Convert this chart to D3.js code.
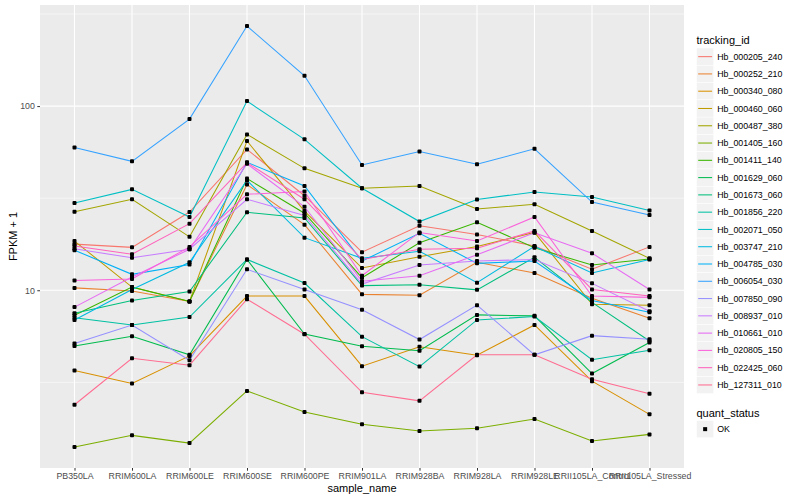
<!DOCTYPE html>
<html>
<head>
<meta charset="utf-8">
<script src="https://cdn.jsdelivr.net/npm/d3@7"></script>
<style>
  body { margin: 0; background: #fff; }
  text { font-family: "Liberation Sans", Arial, sans-serif; }
</style>
</head>
<body>
<div id="chart"></div>
<script>
// samples on the x axis
const sampleNames = ["PB350LA", "RRIM600LA", "RRIM600LE", "RRIM600SE", "RRIM600PE", "RRIM901LA",
  "RRIM928BA", "RRIM928LA", "RRIM928LE", "RRII105LA_Control", "RRII105LA_Stressed"];

const trackingIds = ["Hb_000205_240", "Hb_000252_210", "Hb_000340_080", "Hb_000460_060", "Hb_000487_380",
  "Hb_001405_160", "Hb_001411_140", "Hb_001629_060", "Hb_001673_060", "Hb_001856_220",
  "Hb_002071_050", "Hb_003747_210", "Hb_004785_030", "Hb_006054_030", "Hb_007850_090",
  "Hb_008937_010", "Hb_010661_010", "Hb_020805_150", "Hb_022425_060", "Hb_127311_010"];

// FPKM + 1, one row per tracking_id, one value per sample
const fpkmPlusOne = [
  [17.8, 17.1, 26.6, 58.2, 32.6, 16.1, 22.4, 20.1, 17.4, 13.0, 17.2],
  [10.3, 9.9, 8.7, 37.5, 22.7, 9.5, 9.4, 14.2, 12.4, 9.05, 7.05],
  [3.67, 3.12, 4.40, 9.3, 9.3, 3.87, 4.93, 4.44, 6.48, 3.21, 2.12],
  [18.5, 10.4, 8.7, 64.6, 26.9, 13.2, 15.2, 17.3, 20.6, 8.4, 8.3],
  [26.7, 31.2, 19.5, 70.2, 45.9, 35.8, 36.8, 27.6, 29.3, 21.0, 14.9],
  [1.41, 1.63, 1.48, 2.84, 2.18, 1.875, 1.72, 1.78, 2.00, 1.52, 1.65],
  [7.32, 10.4, 8.7, 40.4, 26.2, 11.7, 18.1, 23.4, 17.0, 13.7, 14.8],
  [4.98, 5.62, 4.46, 14.7, 5.79, 4.96, 4.70, 7.35, 7.26, 3.53, 5.2],
  [7.5, 8.8, 9.85, 26.5, 24.7, 10.6, 10.7, 10.05, 15.1, 8.6, 5.3],
  [7.1, 6.48, 7.15, 14.7, 10.95, 5.6, 3.85, 6.9, 7.2, 4.2, 4.73],
  [29.8, 35.3, 25.0, 106.4, 66.0, 35.8, 23.6, 31.1, 34.2, 32.1, 27.1],
  [6.9, 10.1, 14.2, 39.5, 19.3, 14.9, 16.3, 11.0, 17.3, 12.4, 14.7],
  [16.5, 12.2, 13.8, 49.5, 36.8, 14.4, 20.4, 14.0, 14.4, 8.8, 7.6],
  [59.5, 50.1, 85.0, 272, 146, 47.9, 56.6, 48.3, 58.6, 30.1, 25.6],
  [5.14, 6.48, 4.17, 13.0, 10.1, 7.83, 5.4, 8.3, 4.46, 5.67, 5.42],
  [16.8, 15.0, 16.7, 31.2, 25.5, 10.8, 13.7, 14.4, 14.7, 10.9, 7.7],
  [8.1, 11.8, 16.7, 48.6, 28.4, 11.2, 12.0, 15.6, 20.5, 15.9, 10.1],
  [11.3, 11.5, 17.2, 33.2, 34.4, 12.0, 20.6, 18.5, 25.0, 9.3, 9.15],
  [17.4, 15.7, 23.0, 49.3, 31.2, 14.7, 16.7, 16.9, 21.0, 10.1, 9.3],
  [2.39, 4.27, 3.92, 8.94, 5.77, 2.79, 2.51, 4.46, 4.46, 3.29, 2.74]
];

const quantStatus = ["OK"];
const yTicks = [10, 100];
const yMinorTicks = [Math.pow(10, 0.5), Math.pow(10, 1.5), Math.pow(10, 2.5)];

// ggplot default hue palette for 20 levels
const palette = ["#F8766D", "#EA8331", "#D89000", "#C09B00", "#A3A500", "#7CAE00", "#39B600",
  "#00BB4E", "#00BF7D", "#00C1A3", "#00BFC4", "#00BAE0", "#00B0F6", "#35A2FF", "#9590FF",
  "#C77CFF", "#E76BF3", "#FA62DB", "#FF62BC", "#FF6C91"];

const width = 800, height = 500;
const panel = { left: 40, right: 684, top: 5, bottom: 468 };

const svg = d3.select("#chart").append("svg")
  .attr("width", width)
  .attr("height", height);

svg.append("rect").attr("width", width).attr("height", height).attr("fill", "#fff");

// --- Scales ---
const x = d3.scalePoint()
  .domain(sampleNames)
  .range([panel.left, panel.right])
  .padding(0.6);

const allValues = fpkmPlusOne.flat();
const [lo, hi] = d3.extent(allValues).map(Math.log10);
const pad = (hi - lo) * 0.05; // ggplot-style expansion in log space
const y = d3.scaleLog()
  .domain([Math.pow(10, lo - pad), Math.pow(10, hi + pad)])
  .range([panel.bottom, panel.top]);

// --- Panel + grid ---
svg.append("rect")
  .attr("x", panel.left).attr("y", panel.top)
  .attr("width", panel.right - panel.left)
  .attr("height", panel.bottom - panel.top)
  .attr("fill", "#EBEBEB");

const grid = svg.append("g");
grid.selectAll(".minor")
  .data(yMinorTicks)
  .join("line")
  .attr("x1", panel.left).attr("x2", panel.right)
  .attr("y1", d => y(d)).attr("y2", d => y(d))
  .attr("stroke", "#fff").attr("stroke-width", 0.55);

grid.selectAll(".major-y")
  .data(yTicks)
  .join("line")
  .attr("x1", panel.left).attr("x2", panel.right)
  .attr("y1", d => y(d)).attr("y2", d => y(d))
  .attr("stroke", "#fff").attr("stroke-width", 1.1);

grid.selectAll(".major-x")
  .data(sampleNames)
  .join("line")
  .attr("x1", d => x(d)).attr("x2", d => x(d))
  .attr("y1", panel.top).attr("y2", panel.bottom)
  .attr("stroke", "#fff").attr("stroke-width", 1.1);

// --- Lines ---
const line = d3.line()
  .x((d, i) => x(sampleNames[i]))
  .y(d => y(d));

svg.append("g")
  .selectAll("path")
  .data(fpkmPlusOne)
  .join("path")
  .attr("d", line)
  .attr("fill", "none")
  .attr("stroke", (d, i) => palette[i])
  .attr("stroke-width", 1.05);

// --- Points (quant_status = OK) ---
const pts = fpkmPlusOne.flatMap(row => row.map((v, i) => ({ s: sampleNames[i], v })));
svg.append("g")
  .selectAll("rect")
  .data(pts)
  .join("rect")
  .attr("x", d => x(d.s) - 2)
  .attr("y", d => y(d.v) - 2)
  .attr("width", 4).attr("height", 4)
  .attr("rx", 1)
  .attr("fill", "#000");

// --- Axes ---
const xAxis = d3.axisBottom(x).tickSize(2.7).tickPadding(2.5);
const gx = svg.append("g")
  .attr("transform", `translate(0,${panel.bottom})`)
  .call(xAxis);
gx.select(".domain").remove();
gx.selectAll(".tick line").attr("stroke", "#333333");
gx.selectAll(".tick text")
  .attr("fill", "#4D4D4D")
  .style("font-size", "8.8px")
  .style("font-family", "Liberation Sans, Arial, sans-serif");

const yAxis = d3.axisLeft(y).tickValues(yTicks).tickFormat(d3.format("d")).tickSize(2.7).tickPadding(2.5);
const gy = svg.append("g")
  .attr("transform", `translate(${panel.left},0)`)
  .call(yAxis);
gy.select(".domain").remove();
gy.selectAll(".tick line").attr("stroke", "#333333");
gy.selectAll(".tick text")
  .attr("fill", "#4D4D4D")
  .style("font-size", "8.8px")
  .style("font-family", "Liberation Sans, Arial, sans-serif");

// axis titles
svg.append("text")
  .attr("x", (panel.left + panel.right) / 2)
  .attr("y", 492)
  .attr("text-anchor", "middle")
  .style("font-size", "11px")
  .text("sample_name");

svg.append("text")
  .attr("transform", `translate(17,${(panel.top + panel.bottom) / 2}) rotate(-90)`)
  .attr("text-anchor", "middle")
  .style("font-size", "11px")
  .text("FPKM + 1");

// --- Legend: tracking_id ---
const keySize = 17.28;
const legend = svg.append("g").attr("transform", "translate(696.5,0)");

legend.append("text")
  .attr("x", 0).attr("y", 43.5)
  .style("font-size", "11px")
  .text("tracking_id");

const items = legend.selectAll(".item")
  .data(trackingIds)
  .join("g")
  .attr("transform", (d, i) => `translate(0,${48 + i * keySize})`);

items.append("rect")
  .attr("width", keySize).attr("height", keySize)
  .attr("fill", "#F2F2F2").attr("stroke", "#fff").attr("stroke-width", 0.5);

items.append("line")
  .attr("x1", 1.7).attr("x2", keySize - 1.7)
  .attr("y1", keySize / 2).attr("y2", keySize / 2)
  .attr("stroke", (d, i) => palette[i])
  .attr("stroke-width", 1.05);

items.append("text")
  .attr("x", keySize + 3.5)
  .attr("y", keySize / 2 + 3.1)
  .style("font-size", "8.8px")
  .text(d => d);

// --- Legend: quant_status ---
const legend2 = svg.append("g").attr("transform", "translate(696.5,0)");
legend2.append("text")
  .attr("x", 0).attr("y", 416.5)
  .style("font-size", "11px")
  .text("quant_status");

const items2 = legend2.selectAll(".item")
  .data(quantStatus)
  .join("g")
  .attr("transform", (d, i) => `translate(0,${420.5 + i * keySize})`);

items2.append("rect")
  .attr("width", keySize).attr("height", keySize)
  .attr("fill", "#F2F2F2").attr("stroke", "#fff").attr("stroke-width", 0.5);

items2.append("rect")
  .attr("x", keySize / 2 - 2).attr("y", keySize / 2 - 2)
  .attr("width", 4).attr("height", 4)
  .attr("fill", "#000");

items2.append("text")
  .attr("x", keySize + 3.5)
  .attr("y", keySize / 2 + 3.1)
  .style("font-size", "8.8px")
  .text(d => d);
</script>
</body>
</html>
